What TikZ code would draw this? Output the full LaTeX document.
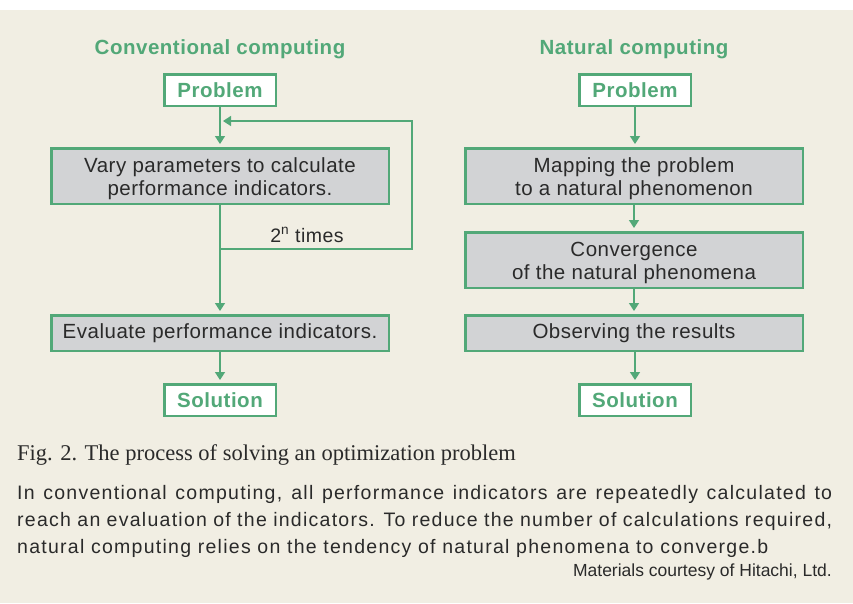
\documentclass[tikz,border=0pt]{standalone}
\usepackage{fontspec}
\setmainfont{Liberation Sans}[LetterSpace=2.5]
\newfontfamily\parafont{Liberation Sans}[LetterSpace=6.5]
\newfontfamily\plainfont{Liberation Sans}
\newfontfamily\capfont{Liberation Serif}
\usetikzlibrary{arrows.meta}
\definecolor{bgc}{HTML}{F1EEE3}
\definecolor{grn}{HTML}{52A878}
\definecolor{boxg}{HTML}{D2D3D5}
\definecolor{txt}{HTML}{2A2A2A}
\tikzset{
  ttl/.style={font=\fontsize{20.5}{23}\selectfont\bfseries, text=grn, inner sep=0pt},
  endbox/.style={draw=grn, line width=2.5pt, fill=white, minimum width=111.5pt, minimum height=31.5pt, inner sep=0pt, font=\fontsize{20.5}{23}\selectfont\bfseries, text=grn},
  stepbox/.style={draw=grn, line width=2.5pt, fill=boxg, minimum width=337.5pt, inner sep=0pt, align=center, font=\fontsize{20.5}{23}\selectfont, text=txt},
  twoline/.style={minimum height=55.5pt, text height=39.4pt, text depth=0pt},
  oneline/.style={minimum height=35.5pt},
  conn/.style={draw=grn, line width=1.5pt, -{Triangle[width=10pt,length=8pt]}, shorten >=3pt},
  para/.style={anchor=base west, inner sep=0pt, font=\parafont\fontsize{19.5}{26}\selectfont, text=txt}
}
\begin{document}
\begin{tikzpicture}[x=1pt,y=-1pt]
\useasboundingbox (0,0) rectangle (853,603);
\fill[white] (0,0) rectangle (853,10);
\fill[bgc] (0,10) rectangle (853,603);
% titles
\node[ttl] (tl) at (220,49) {Conventional computing};
\node[ttl] (tr) at (634,49) {Natural computing};
% left column
\node[endbox] (pl) at (220,90) {Problem};
\node[stepbox, twoline] (vary) at (220,176) {Vary parameters to calculate\\performance indicators.};
\node[stepbox, oneline] (eval) at (220,333) {Evaluate performance indicators.};
\node[endbox] (sl) at (220,400) {Solution};
\coordinate (lj) at (220,249);
\coordinate (lr) at (412,249);
\coordinate (ur) at (412,121);
\coordinate (ul) at (220,121);
\draw[conn] (pl) -- (vary);
\draw[conn] (vary) -- (eval);
\draw[conn] (eval) -- (sl);
\draw[conn] (lj) -- (lr) -- (ur) -- (ul);
\node[inner sep=0pt, font=\fontsize{19.5}{22}\selectfont, text=txt] (times) at (307,235) {2\textsuperscript{n} times};
% right column
\node[endbox] (pr) at (635,90) {Problem};
\node[stepbox, twoline] (map) at (634,176) {Mapping the problem\\to a natural phenomenon};
\node[stepbox, twoline] (conv) at (634,260) {Convergence\\of the natural phenomena};
\node[stepbox, oneline] (obs) at (634,333) {Observing the results};
\node[endbox] (sr) at (635,400) {Solution};
\draw[conn] (pr) -- (pr |- map.north);
\draw[conn] (map) -- (conv);
\draw[conn] (conv) -- (obs);
\draw[conn] (obs.south -| sr) -- (sr);
% caption
\node[anchor=base west, inner sep=0pt, font=\capfont\fontsize{22.5}{26}\selectfont, text=txt] (cap) at (17,460) {Fig. 2. The process of solving an optimization problem};
\node[para] (p1) at (17,499) {\makebox[815pt][s]{In conventional computing, all performance indicators are repeatedly calculated to}};
\node[para] (p2) at (17,526) {\makebox[815pt][s]{reach an evaluation of the indicators. To reduce the number of calculations required,}};
\node[para] (p3) at (17,553) {natural computing relies on the tendency of natural phenomena to converge.b};
\node[anchor=base east, inner sep=0pt, font=\plainfont\fontsize{17.5}{20}\selectfont, text=txt] (mat) at (832,576) {Materials courtesy of Hitachi, Ltd.};
\end{tikzpicture}
\end{document}
